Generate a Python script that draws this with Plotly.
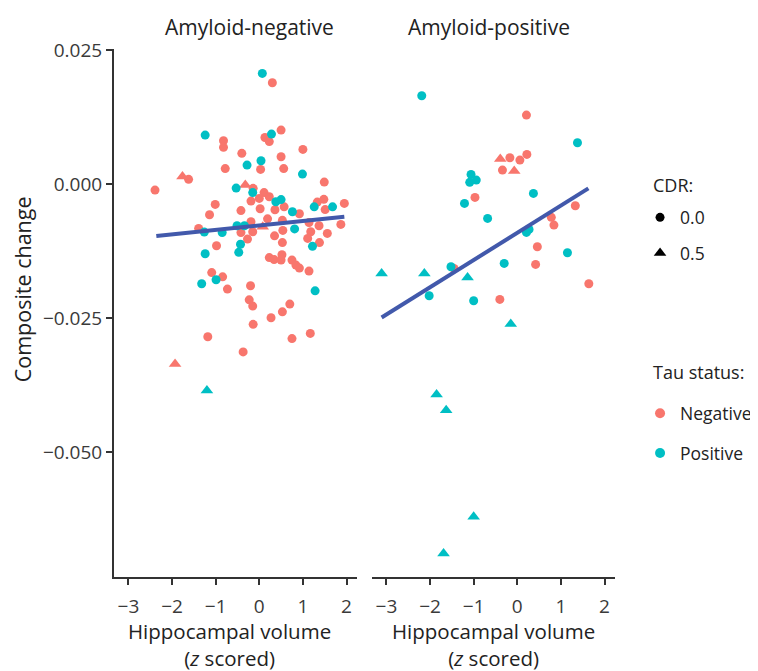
import plotly.graph_objects as go

# ---------------- data ----------------
# Amyloid-negative panel
neg_tauneg_cdr0_x = [0.30, -0.82, -0.82, -0.40, 0.13, 0.23, 0.50, 1.00, 0.50, 0.03, 0.56, -0.78,
                     -2.39, -1.62, 1.49, -0.14, 0.11, 0.23, 0.00, -0.19, 0.57, -1.01, -1.14, -0.42,
                     0.02, 0.36, 0.92, 1.33, 1.48, 1.95, 1.51, 1.87, 0.19, 0.53, -0.19, 1.14, 1.37,
                     1.56, 1.18, 1.38, 1.11, 0.54, 0.35, 0.53, -0.15, -0.27, -0.42, -1.39, -0.98,
                     0.23, 0.34, 0.52, 0.50, 0.75, 0.84, 0.92, 1.14, -1.09, -0.84, -0.73, -0.20,
                     -0.23, -0.15, 0.70, 0.53, 0.27, -0.14, -1.18, 0.75, 1.17, -0.37]
neg_tauneg_cdr0_y = [0.01890, 0.00808, 0.00685, 0.00573, 0.00868, 0.00793, 0.01007, 0.00647, 0.00509,
                     0.00274, 0.00289, 0.00289, -0.00112, 0.00088, 0.00037, -0.00080, -0.00159,
                     -0.00237, -0.00267, -0.00317, -0.00424, -0.00379, -0.00573, -0.00494, -0.00461,
                     -0.00478, -0.00554, -0.00336, -0.00284, -0.00360, -0.00476, -0.00752, -0.00649,
                     -0.00677, -0.00703, -0.00718, -0.00778, -0.00920, -0.00890, -0.01091, -0.01013,
                     -0.00864, -0.00966, -0.01091, -0.00890, -0.01026, -0.00905, -0.00827, -0.01151,
                     -0.01371, -0.01409, -0.01319, -0.01418, -0.01418, -0.01511, -0.01567, -0.01623,
                     -0.01651, -0.01730, -0.01959, -0.01897, -0.02159, -0.02276, -0.02239, -0.02383,
                     -0.02494, -0.02616, -0.02849, -0.02882, -0.02786, -0.03131]
neg_tauneg_cdr05_x = [-1.76, -0.32, 0.08, -1.93]
neg_tauneg_cdr05_y = [0.00140, -0.00019, -0.00797, -0.03358]
neg_taupos_cdr0_x = [0.07, -1.24, 0.28, 0.04, -0.28, 0.99, -0.53, -0.15, 0.50, 0.38, 1.26, 1.68, 0.76,
                     0.81, -0.51, -0.34, -0.85, -1.26, -0.43, 1.22, -1.24, -0.47, -0.99, -1.32, 1.28]
neg_taupos_cdr0_y = [0.02065, 0.00914, 0.00933, 0.00435, 0.00354, 0.00187, -0.00075, -0.00159, -0.00289,
                     -0.00330, -0.00424, -0.00424, -0.00517, -0.00836, -0.00778, -0.00778, -0.00905,
                     -0.00896, -0.01123, -0.01162, -0.01300, -0.01274, -0.01785, -0.01860, -0.01991]
neg_taupos_cdr05_x = [-1.20]
neg_taupos_cdr05_y = [-0.03849]
neg_fit_x = [-2.36, 1.95]
neg_fit_y = [-0.0097, -0.0061]

# Amyloid-positive panel
pos_tauneg_cdr0_x = [0.21, -0.17, 0.06, 0.22, -0.34, -0.97, 1.33, 0.78, 0.84, 0.46, 0.42, 1.64, -1.45, -0.40]
pos_tauneg_cdr0_y = [0.01287, 0.00491, 0.00448, 0.00554, 0.00261, -0.00248, -0.00405, -0.00621, -0.00765,
                     -0.01170, -0.01498, -0.01860, -0.01573, -0.02151]
pos_tauneg_cdr05_x = [-0.39, -0.07]
pos_tauneg_cdr05_y = [0.00466, 0.00243]
pos_taupos_cdr0_x = [-2.19, 1.38, -1.06, -1.09, -0.94, 0.37, -1.21, -0.68, 0.21, 0.27, 1.15, -1.52, -0.30,
                     -2.02, -1.00]
pos_taupos_cdr0_y = [0.01647, 0.00771, 0.00181, 0.00032, 0.00075, -0.00174, -0.00360, -0.00640, -0.00901,
                     -0.00845, -0.01282, -0.01543, -0.01480, -0.02084, -0.02177]
pos_taupos_cdr05_x = [-3.11, -2.13, -1.14, -0.15, -1.85, -1.63, -1.00, -1.69]
pos_taupos_cdr05_y = [-0.01666, -0.01666, -0.01741, -0.02612, -0.03924, -0.04217, -0.06207, -0.06890]
pos_fit_x = [-3.11, 1.63]
pos_fit_y = [-0.0249, -0.0008]

panel_titles = ["Amyloid-negative", "Amyloid-positive"]
cdr_labels = ["0.0", "0.5"]
tau_labels = ["Negative", "Positive"]
x_ticks = [-3, -2, -1, 0, 1, 2]
y_ticks = [0.025, 0.0, -0.025, -0.050]

# ---------------- style ----------------
RED = "#F8766D"
TEAL = "#00BFC4"
LINE = "#4259AB"
FONT = "Open Sans"
TXT = "#222222"
TICK = "#3a3a3a"
AX = "#333333"

fig = go.Figure()

def pts(x, y, color, symbol, xa, size):
    fig.add_trace(go.Scatter(x=x, y=y, mode="markers", xaxis=xa, yaxis="y",
                             marker=dict(color=color, symbol=symbol, size=size, line=dict(width=0)),
                             showlegend=False, hoverinfo="skip"))

for xa, groups, fx, fy in [
    ("x", [(neg_tauneg_cdr0_x, neg_tauneg_cdr0_y, RED, "circle", 9),
           (neg_tauneg_cdr05_x, neg_tauneg_cdr05_y, RED, "triangle-up", 11),
           (neg_taupos_cdr0_x, neg_taupos_cdr0_y, TEAL, "circle", 9),
           (neg_taupos_cdr05_x, neg_taupos_cdr05_y, TEAL, "triangle-up", 11)], neg_fit_x, neg_fit_y),
    ("x2", [(pos_tauneg_cdr0_x, pos_tauneg_cdr0_y, RED, "circle", 9),
            (pos_tauneg_cdr05_x, pos_tauneg_cdr05_y, RED, "triangle-up", 11),
            (pos_taupos_cdr0_x, pos_taupos_cdr0_y, TEAL, "circle", 9),
            (pos_taupos_cdr05_x, pos_taupos_cdr05_y, TEAL, "triangle-up", 11)], pos_fit_x, pos_fit_y),
]:
    for gx, gy, c, s, sz in groups:
        pts(gx, gy, c, s, xa, sz)
    fig.add_trace(go.Scatter(x=fx, y=fy, mode="lines", xaxis=xa, yaxis="y",
                             line=dict(color=LINE, width=4), showlegend=False, hoverinfo="skip"))

# legend entries
for lab, sym in zip(cdr_labels, ["circle", "triangle-up"]):
    fig.add_trace(go.Scatter(x=[None], y=[None], mode="markers", name=lab, legend="legend",
                             legendgroup="cdr" + lab,
                             marker=dict(color="black", symbol=sym, size=9 if sym == "circle" else 11)))
for lab, col in zip(tau_labels, [RED, TEAL]):
    fig.add_trace(go.Scatter(x=[None], y=[None], mode="markers", name=lab, legend="legend2",
                             legendgroup="tau" + lab,
                             marker=dict(color=col, symbol="circle", size=10)))

X_RANGE = [-3.33, 2.24]
common_x = dict(range=X_RANGE, tickvals=x_ticks, ticks="outside", ticklen=6, tickwidth=1.5,
                tickcolor=AX, showline=True, linecolor=AX, linewidth=2, showgrid=False,
                zeroline=False, ticklabelstandoff=5,
                tickfont=dict(family=FONT, size=19, color=TICK), anchor="y")

LEG_FONT = dict(family=FONT, size=17.5, color=TXT)
# page body has an 8px margin: figure is sized/offset so the picture lands on 758x671
fig.update_layout(
    width=750, height=663,
    margin=dict(l=106, r=143, t=41, b=94, autoexpand=False),
    paper_bgcolor="white", plot_bgcolor="white",
    font=dict(family=FONT, color=TXT),
    xaxis=dict(domain=[0, 0.485], **common_x),
    xaxis2=dict(domain=[0.515, 1], **common_x),
    yaxis=dict(range=[-0.0733, 0.0252], tickvals=y_ticks, tickformat=".3f", ticks="outside",
               ticklen=6, tickwidth=1.5, tickcolor=AX, showline=True, linecolor=AX, linewidth=2,
               showgrid=False, zeroline=False,
               tickfont=dict(family=FONT, size=19, color=TICK)),
    legend=dict(font=LEG_FONT, x=1.050, xanchor="left",
                y=0.715, yanchor="top", tracegroupgap=10, bgcolor="rgba(0,0,0,0)"),
    legend2=dict(font=LEG_FONT, x=1.050, xanchor="left",
                 y=0.344, yanchor="top", tracegroupgap=14, bgcolor="rgba(0,0,0,0)"),
)

ann = []
title_x = [0.556, 0.4835]
xtitle_x = [0.477, 0.498]
for i, t in enumerate(panel_titles):
    xr = "x domain" if i == 0 else "x2 domain"
    ann.append(dict(text=t, xref=xr, yref="paper", x=title_x[i], y=1.042, xanchor="center",
                    yanchor="middle", showarrow=False, font=dict(family=FONT, size=21, color=TXT)))
    ann.append(dict(text="Hippocampal volume<br>(<i>z</i> scored)", xref=xr, yref="paper",
                    x=xtitle_x[i], y=-0.1280, xanchor="center", yanchor="middle", showarrow=False,
                    font=dict(family=FONT, size=20.5, color=TXT)))
ann.append(dict(text="Composite change", xref="paper", yref="paper", x=-0.1826, y=0.544,
                xanchor="center", yanchor="middle", textangle=-90, showarrow=False,
                font=dict(family=FONT, size=21.5, color=TXT)))
ann.append(dict(text="CDR:", xref="paper", yref="paper", x=1.072, y=0.7424,
                xanchor="left", yanchor="middle", showarrow=False,
                font=dict(family=FONT, size=18, color=TXT)))
ann.append(dict(text="Tau status:", xref="paper", yref="paper", x=1.072, y=0.3883,
                xanchor="left", yanchor="middle", showarrow=False,
                font=dict(family=FONT, size=18, color=TXT)))
fig.update_layout(annotations=ann)

fig.write_html("out.html")
